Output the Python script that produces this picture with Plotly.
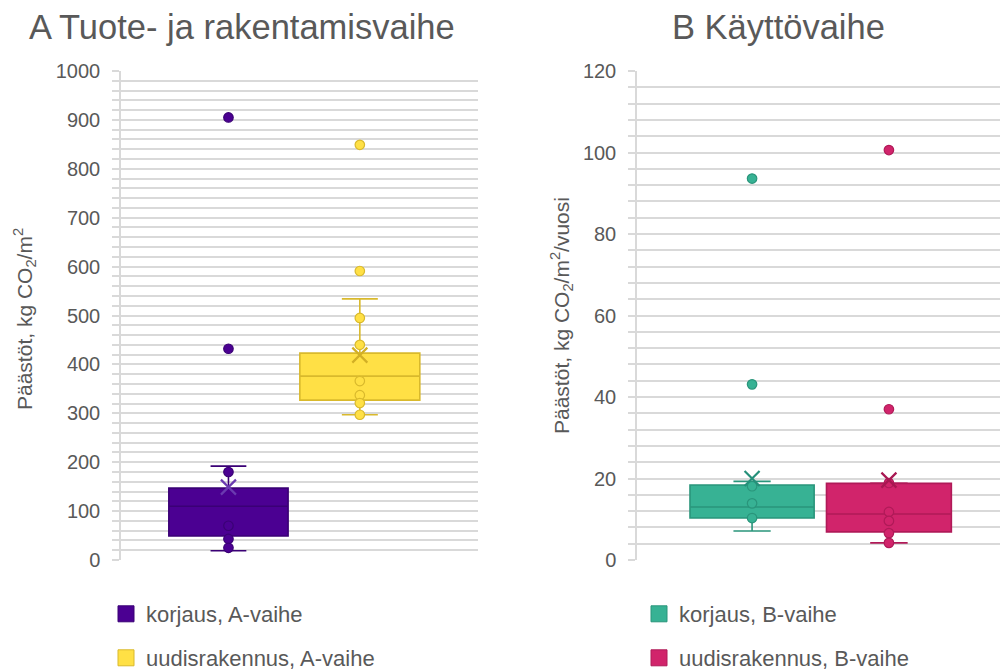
import plotly.graph_objects as go

W, H = 1001, 672

# ---------------- data ----------------
series_names = ["korjaus, A-vaihe", "uudisrakennus, A-vaihe",
                "korjaus, B-vaihe", "uudisrakennus, B-vaihe"]
q1_vals = [49, 327, 10.3, 6.9]
median_vals = [110, 376, 13.0, 11.3]
q3_vals = [147, 423, 18.4, 18.8]
lower_whisker = [19, 297, 7.1, 4.2]
upper_whisker = [192, 534, 19.3, 18.9]
mean_vals = [149, 419, 20.0, 19.6]

points_korjaus_A = [905, 432, 180, 70, 43, 25]
points_uudis_A = [849, 591, 495, 440, 366, 337, 321, 297]
points_korjaus_B = [93.6, 43.1, 18.1, 13.9, 10.3]
points_uudis_B = [100.6, 37.0, 18.9, 11.8, 9.6, 6.6, 4.2]
all_points = [points_korjaus_A, points_uudis_A, points_korjaus_B, points_uudis_B]

left_ticks = [0, 100, 200, 300, 400, 500, 600, 700, 800, 900, 1000]
right_ticks = [0, 20, 40, 60, 80, 100, 120]

title_A = "A Tuote- ja rakentamisvaihe"
title_B = "B Käyttövaihe"
ytitle_A = "Päästöt, kg CO<sub>2</sub>/m<sup>2</sup>"
ytitle_B = "Päästöt, kg CO<sub>2</sub>/m<sup>2</sup>/vuosi"

# ---------------- style ----------------
fills = ["#4B0092", "#FFE045", "#37B294", "#D1246B"]
edges = ["#3A0075", "#D9B92C", "#2A957B", "#B01A58"]
mean_cols = ["#6A3AB0", "#D2AF25", "#25907A", "#A81852"]
box_pos = [0.301, 0.669, 0.317, 0.694]
box_w = [0.334, 0.336, 0.342, 0.344]
axes = [("x", "y"), ("x", "y"), ("x2", "y2"), ("x2", "y2")]

TXT = "#595959"
GRID = "#D9D9D9"
FONT = "Liberation Sans, Arial, sans-serif"

fig = go.Figure()

for i in range(4):
    xa, ya = axes[i]
    fig.add_trace(go.Box(
        x=[box_pos[i]], q1=[q1_vals[i]], median=[median_vals[i]], q3=[q3_vals[i]],
        lowerfence=[lower_whisker[i]], upperfence=[upper_whisker[i]],
        width=box_w[i], whiskerwidth=0.3,
        fillcolor=fills[i], line=dict(color=edges[i], width=1.6),
        boxpoints=False, showlegend=False, hoverinfo="skip",
        xaxis=xa, yaxis=ya))

for i in range(4):
    xa, ya = axes[i]
    fig.add_trace(go.Scatter(
        x=[box_pos[i]] * len(all_points[i]), y=all_points[i], mode="markers",
        marker=dict(size=9.5, color=fills[i], line=dict(color=edges[i], width=1.2)),
        showlegend=False, hoverinfo="skip", xaxis=xa, yaxis=ya))
    fig.add_trace(go.Scatter(
        x=[box_pos[i]], y=[mean_vals[i]], mode="markers",
        marker=dict(symbol="x-thin", size=15, line=dict(color=mean_cols[i], width=2.2)),
        showlegend=False, hoverinfo="skip", xaxis=xa, yaxis=ya))

# legend entries (one legend per entry, so each can be placed freely)
legend_names = ["legend", "legend2", "legend3", "legend4"]
leg_x = [106, 106, 639, 639]
leg_y = [614, 658, 614, 658]
for i in range(4):
    fig.add_trace(go.Scatter(
        x=[None], y=[None], mode="markers", name=series_names[i],
        marker=dict(symbol="square", size=18, color=fills[i],
                    line=dict(color=edges[i], width=1)),
        legend=legend_names[i], xaxis=axes[i][0], yaxis=axes[i][1]))

legend_layout = {}
for i in range(4):
    legend_layout[legend_names[i]] = dict(
        x=leg_x[i] / W, y=1 - leg_y[i] / H, xanchor="left", yanchor="middle",
        font=dict(family=FONT, size=22, color=TXT), bgcolor="rgba(0,0,0,0)",
        borderwidth=0, itemclick=False, itemdoubleclick=False)


def yaxis_style(rng, minor_dtick, ticks, domain_y):
    return dict(
        range=rng, tickmode="array", tickvals=ticks, domain=domain_y,
        showgrid=True, gridcolor=GRID, gridwidth=1.5,
        ticks="outside", ticklen=7, tickcolor=GRID, tickwidth=1.5,
        minor=dict(dtick=minor_dtick, showgrid=True, gridcolor=GRID, gridwidth=1.5,
                   ticks="outside", ticklen=7, tickcolor=GRID, tickwidth=1.5),
        showline=True, linecolor=GRID, linewidth=1.5, zeroline=False,
        tickfont=dict(family=FONT, size=20, color=TXT), ticklabelstandoff=8,
        fixedrange=True)


dom_y = [1 - 560 / H, 1 - 71 / H]
fig.update_layout(
    width=W, height=H, margin=dict(l=0, r=0, t=0, b=0, autoexpand=False),
    paper_bgcolor="white", plot_bgcolor="white",
    xaxis=dict(domain=[121 / W, 478 / W], range=[0, 1], visible=False, fixedrange=True),
    xaxis2=dict(domain=[637 / W, 1000 / W], range=[0, 1], visible=False, fixedrange=True),
    yaxis=dict(anchor="x", **yaxis_style([0, 1000], 20, left_ticks, dom_y)),
    yaxis2=dict(anchor="x2", **yaxis_style([0, 120], 4, right_ticks, dom_y)),
    font=dict(family=FONT, color=TXT),
    **legend_layout,
    annotations=[
        dict(text=title_A, x=27 / W, y=1 - 27 / H, xref="paper", yref="paper",
             xanchor="left", yanchor="middle", showarrow=False,
             font=dict(family=FONT, size=34.5, color=TXT)),
        dict(text=title_B, x=778.5 / W, y=1 - 27 / H, xref="paper", yref="paper",
             xanchor="center", yanchor="middle", showarrow=False,
             font=dict(family=FONT, size=34.5, color=TXT)),
        dict(text=ytitle_A, x=24 / W, y=1 - 319 / H, xref="paper", yref="paper",
             xanchor="center", yanchor="middle", showarrow=False, textangle=-90,
             font=dict(family=FONT, size=21, color=TXT)),
        dict(text=ytitle_B, x=561 / W, y=1 - 316 / H, xref="paper", yref="paper",
             xanchor="center", yanchor="middle", showarrow=False, textangle=-90,
             font=dict(family=FONT, size=21, color=TXT)),
    ],
)

fig.write_html("out.html", config={"displayModeBar": False},
               post_script="document.body.style.margin='0px';document.body.style.overflow='hidden';")
